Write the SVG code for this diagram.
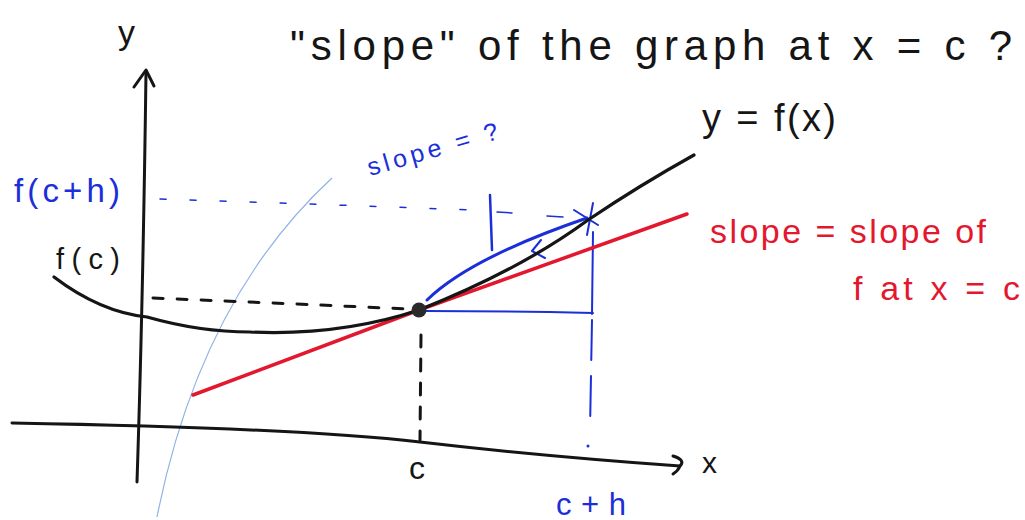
<svg xmlns="http://www.w3.org/2000/svg" width="1025" height="520" viewBox="0 0 1025 520">
<style>
.t{font-family:"Liberation Sans","DejaVu Sans",sans-serif;}
.k{fill:#151515}
.r{fill:#e3172e}
.b{fill:#1b2fd8}
.ks{stroke:#151515;fill:none;stroke-linecap:round;stroke-linejoin:round}
.rs{stroke:#e3172e;fill:none;stroke-linecap:round}
.bs{stroke:#1b2fd8;fill:none;stroke-linecap:round;stroke-linejoin:round}
</style>
<rect width="1025" height="520" fill="#ffffff"/>
<g id="faint-curve">
<path d="M157,517 Q200,300 332,178" stroke="#8fb3e6" stroke-width="1.2" fill="none"/>
</g>
<g id="axes">
<path class="ks" stroke-width="3" d="M137,482 Q143,300 146,72"/>
<path class="ks" stroke-width="3" d="M134,87 L146,70 L154,86"/>
<path class="ks" stroke-width="3" d="M12,423 Q300,428 420,442 T680,466"/>
<path class="ks" stroke-width="3" d="M673,456 Q686,460 680,466 Q678,471 673,474"/>
</g>
<g id="guides">
<path class="ks" stroke-width="3" stroke-dasharray="10,14" d="M153,298 Q300,304 408,309"/>
<path class="ks" stroke-width="3" stroke-dasharray="12,12" d="M421,335 L420,440"/>
<path class="bs" stroke-width="1.5" stroke-dasharray="6,24" d="M160,199 Q400,207 470,210"/>
<path class="bs" stroke-width="1.5" d="M497,212 L512,213 M547,216 L563,217"/>
<path class="bs" stroke-width="2" d="M593,232 L592,314"/>
<path class="bs" stroke-width="2" stroke-dasharray="40,16" d="M592,320 L590,430"/>
<circle cx="588" cy="446" r="1.5" class="b"/>
<path class="bs" stroke-width="2" d="M426,311 Q500,311 593,313"/>
<path class="bs" stroke-width="2.5" d="M490,195 L492,250"/>
</g>
<g id="tangent">
<path class="rs" stroke-width="3.5" d="M193,395 L419,310 L687,214"/>
</g>
<g id="secant">
<path class="bs" stroke-width="3" d="M427,300 Q470,258 587,218"/>
<path class="bs" stroke-width="2" d="M541,240 L532,251 L545,258"/>
<path class="bs" stroke-width="2" d="M593,203 L587,235 M574,210 L598,225"/>
</g>
<g id="curve">
<path class="ks" stroke-width="3.2" d="M54,277 Q100,312 147,317 Q200,332 250,332 Q340,336 419,310 Q520,270 588,220 Q640,185 694,155"/>
<circle cx="419" cy="310" r="7.5" fill="#2a2a2a"/>
</g>
<g id="labels" class="t">
<text x="118" y="44" font-size="34" class="k">y</text>
<text x="290" y="60" font-size="42" class="k" textLength="722" lengthAdjust="spacing">"slope" of the graph at x = c ?</text>
<text x="702" y="131" font-size="38" class="k" textLength="134" lengthAdjust="spacing">y = f(x)</text>
<text x="370" y="176" font-size="25" class="b" transform="rotate(-16 370 176)" textLength="135" lengthAdjust="spacing">slope = ?</text>
<text x="14" y="202" font-size="33" class="b" textLength="106" lengthAdjust="spacing">f(c+h)</text>
<text x="56" y="269" font-size="29" class="k" textLength="64" lengthAdjust="spacing">f(c)</text>
<text x="710" y="243" font-size="34" class="r" textLength="276" lengthAdjust="spacing">slope = slope of</text>
<text x="853" y="300" font-size="34" class="r" textLength="167" lengthAdjust="spacing">f at x = c</text>
<text x="409" y="479" font-size="32" class="k">c</text>
<text x="702" y="473" font-size="30" class="k">x</text>
<text x="556" y="515" font-size="31" class="b" textLength="70" lengthAdjust="spacing">c+h</text>
</g>
</svg>
